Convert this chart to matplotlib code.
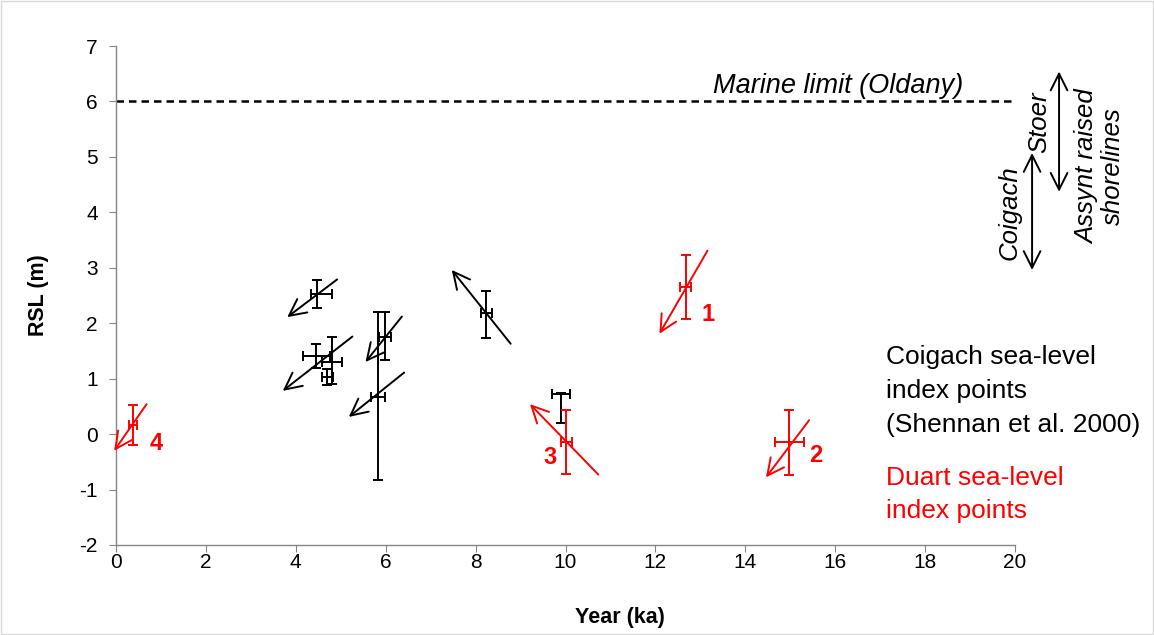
import matplotlib
matplotlib.use("Agg")
import matplotlib.pyplot as plt
from matplotlib.patches import Rectangle

plt.rcParams['font.family'] = ['Liberation Sans', 'DejaVu Sans']

# ---- Coigach sea-level index points (black) ----
black_x = [4.47, 4.45, 4.80, 4.70, 5.83, 5.98, 8.24, 9.90]
black_y = [2.53, 1.41, 1.30, 1.03, 0.67, 1.76, 2.18, 0.72]
black_xerr_lo = [0.13, 0.30, 0.22, 0.12, 0.15, 0.14, 0.12, 0.19]
black_xerr_hi = [0.34, 0.30, 0.22, 0.12, 0.15, 0.14, 0.12, 0.19]
black_yerr_lo = [0.25, 0.22, 0.40, 0.14, 1.50, 0.42, 0.44, 0.52]
black_yerr_hi = [0.25, 0.22, 0.45, 0.14, 1.53, 0.44, 0.41, 0.03]

black_arrow_start = [(4.92, 2.79), (5.26, 1.76), (6.41, 1.11), (6.36, 2.12), (8.78, 1.63)]
black_arrow_end = [(3.81, 2.11), (3.71, 0.78), (5.18, 0.31), (5.55, 1.30), (7.47, 2.96)]

# ---- Duart sea-level index points (red) ----
red_x = [12.67, 14.98, 10.02, 0.37]
red_y = [2.65, -0.15, -0.14, 0.17]
red_xerr = [0.12, 0.32, 0.13, 0.09]
red_yerr = [0.58, 0.58, 0.58, 0.36]
red_labels = ['1', '2', '3', '4']
red_label_x = [13.18, 15.57, 9.66, 0.89]
red_label_y = [2.16, -0.39, -0.42, -0.17]
red_arrow_start = [(13.16, 3.31), (15.42, 0.25), (10.73, -0.73), (0.68, 0.54)]
red_arrow_end = [(12.09, 1.81), (14.46, -0.78), (9.21, 0.54), (-0.04, -0.30)]

marine_limit = 6.0
x_ticks = list(range(0, 21, 2))
y_ticks = list(range(-2, 8, 1))

coigach_lines = ['Coigach sea-level', 'index points', '(Shennan et al. 2000)']
coigach_line_y = [1.27, 0.655, 0.04]
duart_lines = ['Duart sea-level', 'index points']
duart_line_y = [-0.92, -1.52]

# raised shoreline ranges (outside plot area)
stoer_x, stoer_range = 20.98, (4.37, 6.54)
coigach_x, coigach_range = 20.38, (2.96, 5.07)

W, H = 1154, 635
fig = plt.figure(figsize=(W / 100, H / 100), dpi=100)
fig.patches.append(Rectangle((0.001, 0.001), 0.998, 0.997, transform=fig.transFigure,
                             fill=False, edgecolor='#d9d9d9', linewidth=1.0))
ax = fig.add_axes([116 / W, 1 - 545 / H, 899 / W, 499 / H])

ax.set_xlim(0, 20)
ax.set_ylim(-2, 7)
ax.set_xticks(x_ticks)
ax.set_yticks(y_ticks)
ax.set_xticklabels([str(t) for t in x_ticks])
ax.set_yticklabels([str(t) for t in y_ticks])
for s in ['top', 'right']:
    ax.spines[s].set_visible(False)
for s in ['left', 'bottom']:
    ax.spines[s].set_color('#868686')
    ax.spines[s].set_linewidth(1.0)
ax.tick_params(axis='both', direction='out', length=5, color='#868686',
               labelsize=15, labelcolor='black')
ax.tick_params(axis='x', pad=1)
ax.tick_params(axis='y', pad=8)
ax.set_xlabel('Year (ka)', fontsize=15.5, fontweight='bold')
ax.set_ylabel('RSL (m)', fontsize=15.5, fontweight='bold')
ax.xaxis.set_label_coords(0.56, -0.125)
ax.yaxis.set_label_coords(-0.075, 0.5)

# marine limit
ax.plot([0, 20], [marine_limit, marine_limit], linestyle=(0, (3, 2)), color='black', lw=1.8)
ax.text(13.28, 6.16, 'Marine limit (Oldany)', fontsize=19.5, style='italic',
        ha='left', va='baseline')

# black points
ax.errorbar(black_x, black_y, xerr=[black_xerr_lo, black_xerr_hi],
            yerr=[black_yerr_lo, black_yerr_hi], fmt='none', ecolor='black',
            elinewidth=1.4, capsize=3.5, capthick=1.4)
# red points
ax.errorbar(red_x, red_y, xerr=red_xerr, yerr=red_yerr, fmt='none', ecolor='#ff0000',
            elinewidth=1.4, capsize=3.5, capthick=1.4)

arrow_style = '->,head_length=0.6,head_width=0.3'
for s, e in zip(black_arrow_start, black_arrow_end):
    ax.annotate('', xy=e, xytext=s, annotation_clip=False,
                arrowprops=dict(arrowstyle=arrow_style, color='black', lw=1.4,
                                mutation_scale=20, shrinkA=0, shrinkB=0))
for s, e in zip(red_arrow_start, red_arrow_end):
    ax.annotate('', xy=e, xytext=s, annotation_clip=False,
                arrowprops=dict(arrowstyle=arrow_style, color='#ff0000', lw=1.4,
                                mutation_scale=20, shrinkA=0, shrinkB=0))

for lab, lx, ly in zip(red_labels, red_label_x, red_label_y):
    ax.text(lx, ly, lab, color='#ff0000', fontsize=17, fontweight='bold',
            ha='center', va='center')

# legend-like text
for line, ly in zip(coigach_lines, coigach_line_y):
    ax.text(17.13, ly, line, fontsize=19, color='black', ha='left', va='baseline')
for line, ly in zip(duart_lines, duart_line_y):
    ax.text(17.13, ly, line, fontsize=19, color='#ff0000', ha='left', va='baseline')

# raised shoreline double arrows
for ax_x, rng in [(stoer_x, stoer_range), (coigach_x, coigach_range)]:
    ax.annotate('', xy=(ax_x, rng[1]), xytext=(ax_x, rng[0]), annotation_clip=False,
                arrowprops=dict(arrowstyle='<->,head_length=0.6,head_width=0.3',
                                color='black', lw=1.4, mutation_scale=20,
                                shrinkA=0, shrinkB=0))
ax.text(20.53, 5.63, 'Stoer', rotation=90, fontsize=18.5, style='italic',
        ha='center', va='center', clip_on=False)
ax.text(19.87, 3.99, 'Coigach', rotation=90, fontsize=18.5, style='italic',
        ha='center', va='center', clip_on=False)
ax.text(21.9, 4.83, 'Assynt raised\nshorelines', rotation=90, fontsize=18.5, style='italic',
        ha='center', va='center', clip_on=False, linespacing=1.1)

fig.savefig('out.png', dpi=100)
